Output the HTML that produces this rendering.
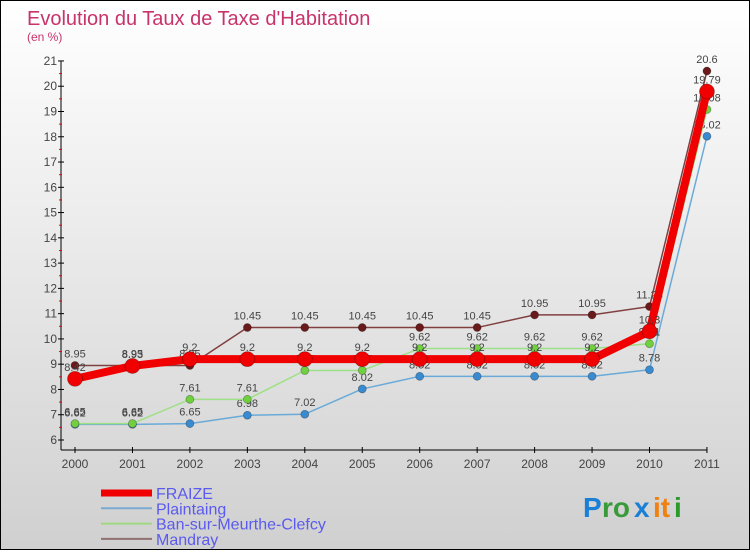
<!DOCTYPE html>
<html><head><meta charset="utf-8"><style>
html,body{margin:0;padding:0}
body{width:750px;height:550px;overflow:hidden;font-family:"Liberation Sans",sans-serif}
#wrap{position:absolute;left:0;top:0;width:748px;height:548px;border:1px solid #000;background:linear-gradient(#ffffff,#d0d0d0)}
</style></head><body>
<div id="wrap">
<svg id="svg" width="748" height="548" xmlns="http://www.w3.org/2000/svg">
<text x="26" y="24" font-size="20" fill="#c8336a">Evolution du Taux de Taxe d'Habitation</text>
<text x="26" y="40" font-size="12" fill="#c8336a">(en %)</text>
<g id="axes"></g><g id="series"></g><g id="legend"></g>
<g font-size="28" font-weight="bold" font-family="Liberation Sans, sans-serif">
<text x="582" y="516" fill="#1a7fd6">P</text><text x="601" y="516" fill="#3a9a3a">ro</text>
<text x="633" y="516" fill="#1a7fd6">x</text><text x="652" y="516" fill="#f08010">it</text><text x="673" y="516" fill="#2a9a2a">i</text>
</g>
</svg></div>
<script>
const years=[2000,2001,2002,2003,2004,2005,2006,2007,2008,2009,2010,2011];
const fraize=[8.42,8.93,9.2,9.2,9.2,9.2,9.2,9.2,9.2,9.2,10.3,19.79];
const plaintaing=[6.62,6.62,6.65,6.98,7.02,8.02,8.52,8.52,8.52,8.52,8.78,18.02];
const ban=[6.65,6.65,7.61,7.61,8.75,8.75,9.62,9.62,9.62,9.62,9.81,19.08];
const mandray=[8.95,8.95,8.95,10.45,10.45,10.45,10.45,10.45,10.95,10.95,11.28,20.6];
const yTicks=[6,7,8,9,10,11,12,13,14,15,16,17,18,19,20,21];
const NS="http://www.w3.org/2000/svg";
const X=i=>74+i*57.45, Y=v=>439-(v-6)*25.27;
function el(t,a,p){const e=document.createElementNS(NS,t);for(const k in a)e.setAttribute(k,a[k]);p.appendChild(e);return e;}
const ax=document.getElementById('axes');
const yl=el('line',{x1:60,y1:Y(21),x2:60,y2:449,stroke:'#000','stroke-width':1},ax);


const xl=el('line',{x1:60,y1:449,x2:X(11),y2:449,stroke:'#000','stroke-width':1},ax);


yTicks.forEach(v=>{
 el('line',{x1:57,y1:Y(v),x2:63,y2:Y(v),stroke:'#000'},ax);
 if(v<21)el('line',{x1:58,y1:Y(v+0.5),x2:61,y2:Y(v+0.5),stroke:'#e00'},ax);
 const t=el('text',{x:56,y:Y(v)+4,'font-size':12,fill:'#444','text-anchor':'end'},ax);t.textContent=v;
 
 
});
years.forEach((y,i)=>{
 el('line',{x1:X(i),y1:446,x2:X(i),y2:452,stroke:'#000'},ax);
 const t=el('text',{x:X(i),y:467,'font-size':12,fill:'#444','text-anchor':'middle'},ax);t.textContent=y;
 
 
});
const sg=document.getElementById('series');
function series(name,data,color,w,r,dot){
 const g=el('g',{},sg);
 
 
 el('polyline',{points:data.map((v,i)=>X(i)+','+Y(v)).join(' '),fill:'none',stroke:color,'stroke-width':w,'stroke-linejoin':'round'},g);
 data.forEach((v,i)=>{
  const c=el('circle',{cx:X(i),cy:Y(v),r:r,fill:dot,stroke:'rgba(0,0,0,0.3)','stroke-width':0.8},g);
  
  
  const t=el('text',{x:X(i),y:Y(v)-8,'font-size':11,fill:'#444','text-anchor':'middle'},g);t.textContent=v;
  
  
 });
}
series('plaintaing',plaintaing,'#6aaad8',1.5,4,'#3a8ad0');
series('ban',ban,'#9ee088',1.5,4,'#70d040');
series('mandray',mandray,'#804040',1.5,4,'#6a1a1a');
series('fraize',fraize,'#f00000',8,7.5,'#f00000');
const lg=document.getElementById('legend');
[['FRAIZE','#f00000',7],['Plaintaing','#7aaad0',2],['Ban-sur-Meurthe-Clefcy','#9ed880',2],['Mandray','#907070',2]].forEach((d,i)=>{
 const y=492+i*15.3;
 const g=el('g',{},lg);
 
 
 el('line',{x1:100,y1:y,x2:151,y2:y,stroke:d[1],'stroke-width':d[2]},g);
 const t=el('text',{x:155,y:y+6,'font-size':16,fill:'#5a5af0'},g);t.textContent=d[0];
});
</script>
</body></html>
